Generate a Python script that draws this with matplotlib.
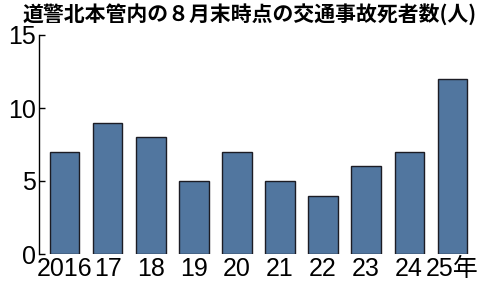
import matplotlib
matplotlib.use("Agg")
import matplotlib.pyplot as plt

years = ["2016", "17", "18", "19", "20", "21", "22", "23", "24", "25年"]
deaths = [7, 9, 8, 5, 7, 5, 4, 6, 7, 12]
yticks = [0, 5, 10, 15]
title = "道警北本管内の８月末時点の交通事故死者数(人)"

tick_family = ["Liberation Sans", "Noto Sans CJK JP"]

fig = plt.figure(figsize=(5.0, 2.98), dpi=100)
ax = fig.add_axes([39 / 500, 1 - 254 / 298, 439 / 500, 219 / 298])

ax.bar(range(len(years)), deaths, width=0.68, color="#51769f",
       edgecolor="#1c1c24", linewidth=1.0)
ax.set_xlim(-0.6, len(years) - 1 + 0.6)
ax.set_ylim(0, 15)
ax.set_yticks(yticks)
ax.set_xticks(range(len(years)))
ax.set_xticklabels(years)

for s in ("top", "right", "bottom"):
    ax.spines[s].set_visible(False)
ax.spines["left"].set_linewidth(1.0)
ax.tick_params(axis="y", direction="in", length=4, width=1.0, pad=2)
ax.tick_params(axis="x", length=0, pad=2)
for lab in ax.get_xticklabels() + ax.get_yticklabels():
    lab.set_family(tick_family)
    lab.set_fontsize(18)

fig.text(0.5, 0.99, title, ha="center", va="top", fontsize=15,
         fontweight="bold", family=["Noto Sans CJK JP", "DejaVu Sans"])

fig.savefig("out.png", dpi=100, facecolor="white")
